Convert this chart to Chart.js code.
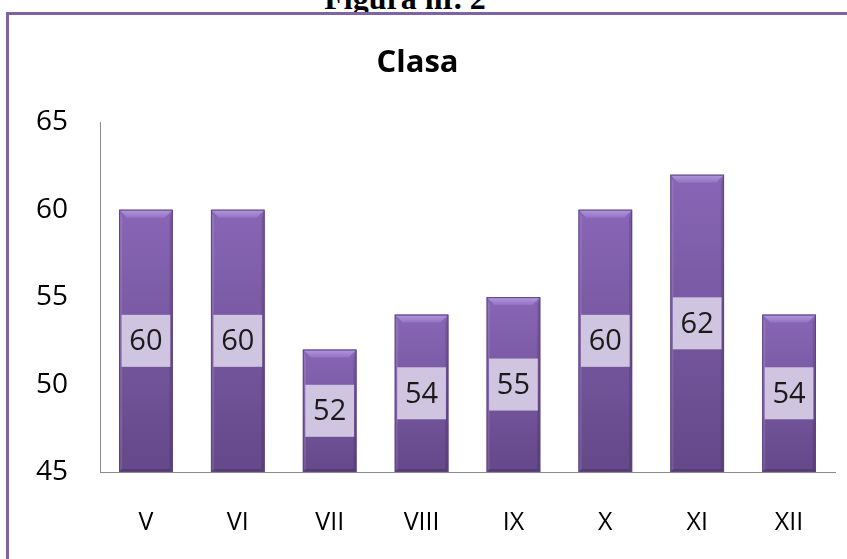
<!DOCTYPE html>
<html>
<head>
<meta charset="utf-8">
<script src="https://cdn.jsdelivr.net/npm/chart.js@4.4.1/dist/chart.umd.min.js"></script>
<style>
html,body{margin:0;padding:0;background:#fff;width:847px;height:559px;overflow:hidden;position:relative;}
#hdr{position:absolute;left:0;width:810px;top:-18px;text-align:center;font-family:"Liberation Serif","DejaVu Serif",serif;font-weight:bold;font-size:32px;line-height:32px;color:#000;white-space:nowrap;}
#box{position:absolute;left:6px;top:12px;width:900px;height:600px;border-top:3px solid #8064a2;border-left:3px solid #8064a2;background:#fff;}
#wrap{position:absolute;left:0;top:0;width:847px;height:559px;}
</style>
</head>
<body>
<div id="hdr">Figura nr. 2</div>
<div id="box"></div>
<div id="wrap"><canvas id="c" width="847" height="559"></canvas></div>
<script>
const categories = ["V","VI","VII","VIII","IX","X","XI","XII"];
const values = [60,60,52,54,55,60,62,54];
const yTicks = [45,50,55,60,65];
const chartTitle = "Clasa";

const FONT = "'Open Sans', 'Noto Sans', sans-serif";

function barGradient(ctx){
  const chart = ctx.chart;
  if(!chart.chartArea || ctx.type !== 'data') return '#7a5aa6';
  const y = chart.scales.y;
  const top = y.getPixelForValue(ctx.raw);
  const base = y.getPixelForValue(45);
  const g = chart.ctx.createLinearGradient(0, top, 0, base);
  g.addColorStop(0, '#8866b6');
  g.addColorStop(1, '#644889');
  return g;
}

const bevelPlugin = {
  id:'bevel',
  afterDatasetsDraw(chart){
    const c = chart.ctx;
    chart.getDatasetMeta(0).data.forEach(bar=>{
      const l = bar.x - bar.width/2, r = bar.x + bar.width/2, t = bar.y, b = bar.base;
      const bv = 8;
      c.save();
      c.beginPath();
      c.moveTo(l,t); c.lineTo(r,t); c.lineTo(r-bv,t+bv); c.lineTo(l+bv,t+bv); c.closePath();
      const tg = c.createLinearGradient(0,t,0,t+bv);
      tg.addColorStop(0,'#b497e0'); tg.addColorStop(1,'#9273c2');
      c.fillStyle = tg; c.fill();
      c.beginPath();
      c.moveTo(l,t); c.lineTo(l+bv*0.4,t+bv); c.lineTo(l+bv*0.4,b-3); c.lineTo(l,b); c.closePath();
      c.fillStyle = 'rgba(255,255,255,0.10)'; c.fill();
      c.beginPath();
      c.moveTo(r,t); c.lineTo(r-bv*0.4,t+bv); c.lineTo(r-bv*0.4,b-3); c.lineTo(r,b); c.closePath();
      c.fillStyle = 'rgba(0,0,0,0.12)'; c.fill();
      c.beginPath();
      c.moveTo(l,b); c.lineTo(r,b); c.lineTo(r-3,b-3); c.lineTo(l+3,b-3); c.closePath();
      c.fillStyle = 'rgba(0,0,0,0.15)'; c.fill();
      c.strokeStyle = '#5d4382'; c.lineWidth = 1;
      c.strokeRect(l+0.5,t+0.5,bar.width-1,b-t-1);
      c.restore();
    });
  }
};

const labelPlugin = {
  id:'valueLabels',
  afterDatasetsDraw(chart){
    const c = chart.ctx;
    const meta = chart.getDatasetMeta(0);
    meta.data.forEach((bar,i)=>{
      const cy = (bar.y + bar.base)/2;
      const w = bar.width - 5, h = 52;
      c.save();
      c.fillStyle = '#d0c5e0';
      c.fillRect(bar.x - w/2, cy - h/2, w, h);
      c.fillStyle = '#1a1a1a';
      c.font = "29px " + FONT;
      c.textAlign = 'center';
      c.textBaseline = 'middle';
      c.fillText(String(values[i]), bar.x, cy + 1);
      c.restore();
    });
  }
};

new Chart(document.getElementById('c'), {
  type:'bar',
  data:{
    labels:categories,
    datasets:[{
      data:values,
      backgroundColor:barGradient,
      borderWidth:0,
      barPercentage:0.585,
      categoryPercentage:1.0,
      base:45
    }]
  },
  options:{
    responsive:false,
    animation:false,
    devicePixelRatio:1,
    layout:{padding:{left:0,right:12,top:0,bottom:22}},
    plugins:{
      legend:{display:false},
      tooltip:{enabled:false},
      title:{display:true,text:chartTitle,color:'#000',
        font:{family:FONT,size:31,weight:'bold'},
        padding:{top:45,bottom:40}}
    },
    scales:{
      x:{
        afterFit(s){ s.height = 65; },
        grid:{display:false,drawTicks:false},
        border:{display:true,color:'#8c8c8c',width:1},
        ticks:{color:'#000',font:{family:FONT,size:25},padding:36,maxRotation:0}
      },
      y:{
        min:45,max:65,
        afterBuildTicks(s){ s.ticks = yTicks.map(v=>({value:v})); },
        afterFit(s){ s.width = 100; },
        grid:{display:false,drawTicks:false},
        border:{display:true,color:'#8c8c8c',width:1},
        ticks:{color:'#000',font:{family:FONT,size:28},padding:32}
      }
    }
  },
  plugins:[bevelPlugin,labelPlugin]
});
</script>
</body>
</html>
